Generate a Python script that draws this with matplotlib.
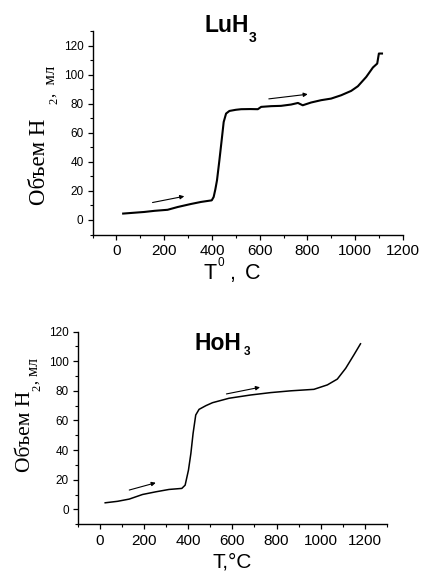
import matplotlib
matplotlib.use('Agg')
import matplotlib.pyplot as plt
from matplotlib.ticker import MultipleLocator

# LuH3 curve (T, volume)
lu_T = [28, 60, 116, 160, 214, 256, 312, 354, 399, 407, 414, 421, 431, 442, 449,
        459, 473, 500, 522, 560, 592, 606, 648, 689, 731, 760, 780, 815, 857,
        899, 941, 983, 1011, 1046, 1074, 1092, 1099, 1112]
lu_V = [4.4, 4.8, 5.5, 6.3, 7.0, 8.9, 11.0, 12.4, 13.5, 15.8, 21, 27.3, 41, 57,
        67.4, 73.2, 75, 75.8, 76.2, 76.3, 76.2, 77.8, 78.3, 78.5, 79.4, 80.5,
        78.9, 80.8, 82.4, 83.5, 85.8, 88.8, 92, 98.4, 104.9, 107.6, 114.5, 114.5]

# HoH3 curve
ho_T = [24, 80, 133, 193, 253, 313, 371, 386, 401, 412, 422, 434, 449, 480, 510,
        585, 683, 773, 864, 969, 1030, 1075, 1113, 1150, 1180]
ho_V = [4.5, 5.5, 7.0, 10.1, 11.9, 13.5, 14.2, 16.4, 26.5, 37.8, 51.3, 63.7,
        67.5, 70, 72, 75, 77.2, 78.8, 80, 81, 84, 87.9, 95.2, 104.2, 111.7]

# heating arrows: (x0, y0, x1, y1)
lu_arrows = [(151, 12, 284, 16.3), (638, 83.3, 801, 86.5)]
ho_arrows = [(133, 13.1, 253, 18.0), (573, 77.9, 725, 82.4)]

lu_xticks = [0, 200, 400, 600, 800, 1000, 1200]
lu_yticks = [0, 20, 40, 60, 80, 100, 120]
ho_xticks = [0, 200, 400, 600, 800, 1000, 1200]
ho_yticks = [0, 20, 40, 60, 80, 100, 120]

W, H = 422, 571
plt.rcParams['font.family'] = ['Liberation Sans', 'DejaVu Sans']
fig = plt.figure(figsize=(W / 100, H / 100), dpi=100)


def px(x, y):
    return x / W, 1 - y / H


def style_axes(ax, xticks, yticks, xlim, ylim):
    ax.set_xlim(*xlim)
    ax.set_ylim(*ylim)
    ax.set_xticks(xticks)
    ax.set_yticks(yticks)
    ax.xaxis.set_minor_locator(MultipleLocator(100))
    ax.yaxis.set_minor_locator(MultipleLocator(10))
    for s in ['top', 'right']:
        ax.spines[s].set_visible(False)
    for s in ['left', 'bottom']:
        ax.spines[s].set_linewidth(1.0)
    ax.tick_params(which='major', direction='out', length=3.5, width=0.9)
    ax.tick_params(which='minor', direction='out', length=2, width=0.8)
    ax.tick_params(axis='x', labelsize=11, pad=3.5)
    ax.tick_params(axis='y', labelsize=8.5, pad=3)


def arrows(ax, lst):
    for x0, y0, x1, y1 in lst:
        ax.annotate('', xy=(x1, y1), xytext=(x0, y0),
                    arrowprops=dict(arrowstyle='-|>', color='black', lw=0.8,
                                    mutation_scale=6, shrinkA=0, shrinkB=0))


# ---- top: LuH3
ax1 = fig.add_axes([92.6 / W, 1 - 234.5 / H, (403 - 92.6) / W, (234.5 - 31) / H])
ax1.plot(lu_T, lu_V, color='black', lw=1.5)
style_axes(ax1, lu_xticks, lu_yticks, (-100, 1200), (-10, 130))
arrows(ax1, lu_arrows)

fig.text(*px(204, 32), 'LuH', fontsize=16.5, fontweight='bold', ha='left', va='baseline')
fig.text(*px(249, 41.5), '3', fontsize=10, fontweight='bold', ha='left', va='baseline')

serif = ['Liberation Serif', 'DejaVu Serif']
fig.text(*px(45, 205), 'Объем H', family=serif, fontsize=16.5, rotation=90,
         rotation_mode='anchor', ha='left', va='baseline')
fig.text(*px(57, 104), '2', family=serif, fontsize=9, rotation=90,
         rotation_mode='anchor', ha='left', va='baseline')
fig.text(*px(55, 97), ',  мл', family=serif, fontsize=12, rotation=90,
         rotation_mode='anchor', ha='left', va='baseline')

fig.text(*px(203, 279), 'T', fontsize=15.5, ha='left', va='baseline')
fig.text(*px(218, 266), '0', fontsize=8.5, ha='left', va='baseline')
fig.text(*px(229, 279), ',', fontsize=15.5, ha='left', va='baseline')
fig.text(*px(245, 279), 'C', fontsize=15.5, ha='left', va='baseline')

# ---- bottom: HoH3
ax2 = fig.add_axes([77.8 / W, 1 - 524.3 / H, (387 - 77.8) / W, (524.3 - 331.5) / H])
ax2.plot(ho_T, ho_V, color='black', lw=1.1)
style_axes(ax2, ho_xticks, ho_yticks, (-100, 1300), (-10, 120))
arrows(ax2, ho_arrows)

fig.text(*px(195, 350), 'HoH', fontsize=16.5, fontweight='bold', ha='left', va='baseline')
fig.text(*px(243.5, 355), '3', fontsize=8.5, fontweight='bold', ha='left', va='baseline')

fig.text(*px(30, 472), 'Объем H', family=serif, fontsize=15.5, rotation=90,
         rotation_mode='anchor', ha='left', va='baseline')
fig.text(*px(40, 391), '2', family=serif, fontsize=9, rotation=90,
         rotation_mode='anchor', ha='left', va='baseline')
fig.text(*px(38, 384), ', мл', family=serif, fontsize=11.5, rotation=90,
         rotation_mode='anchor', ha='left', va='baseline')

fig.text(*px(232, 567), 'T,°C', fontsize=15, ha='center', va='baseline')

fig.savefig('out.png', dpi=100, facecolor='white')
